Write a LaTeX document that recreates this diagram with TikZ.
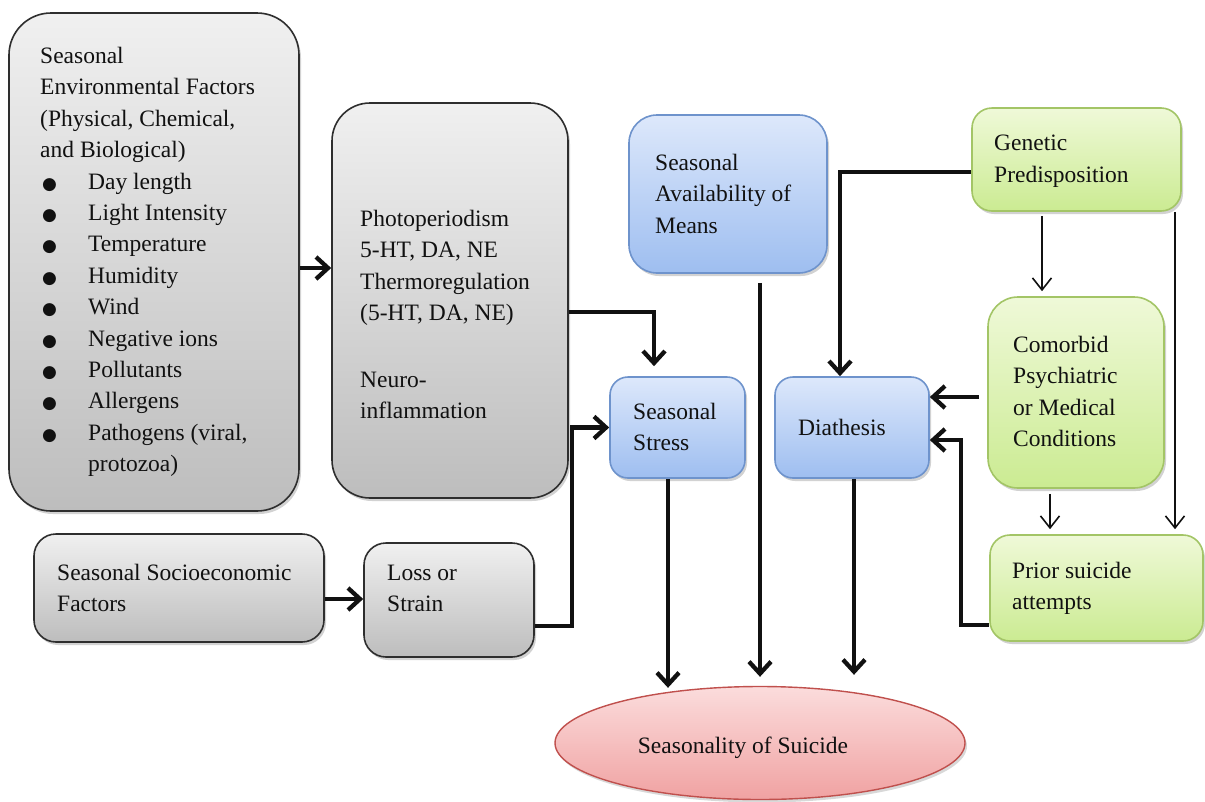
\documentclass[tikz,border=0pt]{standalone}
\usepackage{fontspec}
\setmainfont{Liberation Serif}
\newfontfamily\symf{DejaVu Sans}
\usetikzlibrary{arrows.meta,shapes.geometric,shadows}
\newcommand{\mybul}{\makebox[48pt][l]{\hspace*{2pt}{\symf\fontsize{17}{17}\selectfont ●}}}
\definecolor{grayT}{HTML}{F0F0F0}
\definecolor{grayB}{HTML}{BDBDBD}
\definecolor{grayD}{HTML}{2E2E2E}
\definecolor{blueT}{HTML}{DDE8FB}
\definecolor{blueB}{HTML}{9EBEF0}
\definecolor{blueD}{HTML}{6E93CC}
\definecolor{greenT}{HTML}{EFF9D8}
\definecolor{greenB}{HTML}{CBEB92}
\definecolor{greenD}{HTML}{A3C566}
\definecolor{pinkT}{HTML}{FBDCDC}
\definecolor{pinkB}{HTML}{F0A2A2}
\definecolor{pinkD}{HTML}{C0504D}
\definecolor{ink}{HTML}{111111}
\begin{document}
\begin{tikzpicture}[x=1pt,y=-1pt,
  box/.style={draw, rounded corners=#1, inner sep=0pt, line width=1.6pt,
    drop shadow={shadow xshift=2pt,shadow yshift=-3pt,opacity=0.35}},
  grayfill/.style={top color=grayT, bottom color=grayB, draw=grayD},
  bluefill/.style={top color=blueT, bottom color=blueB, draw=blueD},
  greenfill/.style={top color=greenT, bottom color=greenB, draw=greenD},
  txt/.style={anchor=north west, inner sep=0pt, align=left, text=ink,
    font=\fontsize{23.5}{31.4}\selectfont},
  bigarrow/.style={draw=ink, line width=4.3pt, -{Straight Barb[length=12pt,width=22pt]}},
  thinarrow/.style={draw=ink, line width=1.6pt, -{Straight Barb[length=12pt,width=19pt]}}
]
\useasboundingbox (0,0) rectangle (1205,801);
\fill[white] (0,0) rectangle (1205,801);

% boxes
\node[box=42pt, grayfill, minimum width=290pt, minimum height=498pt] (env) at (154,262) {};
\node[box=38pt, grayfill, minimum width=236pt, minimum height=395pt] (photo) at (450,300.5) {};
\node[box=28pt, bluefill, minimum width=198pt, minimum height=158pt] (means) at (728,194) {};
\node[box=20pt, greenfill, minimum width=209pt, minimum height=103pt] (gen) at (1076.5,159.5) {};
\node[box=30pt, greenfill, minimum width=176pt, minimum height=191pt] (com) at (1076,392.5) {};
\node[box=20pt, greenfill, minimum width=213pt, minimum height=106pt] (prior) at (1096.5,588) {};
\node[box=18pt, bluefill, minimum width=135pt, minimum height=101pt] (stress) at (677.5,427.5) {};
\node[box=18pt, bluefill, minimum width=154pt, minimum height=101pt] (dia) at (852,427.5) {};
\node[box=22pt, grayfill, minimum width=290pt, minimum height=108pt] (soc) at (179,588) {};
\node[box=22pt, grayfill, minimum width=170pt, minimum height=114pt] (loss) at (449,600) {};
\node[ellipse, draw=pinkD, line width=1.4pt, top color=pinkT, bottom color=pinkB,
  minimum width=410pt, minimum height=113pt, inner sep=0pt,
  drop shadow={shadow xshift=2pt,shadow yshift=-3pt,opacity=0.3}] (sos) at (760,743) {};

% texts
\node[txt] (envT) at (40,47) {Seasonal\\
Environmental Factors\\
(Physical, Chemical,\\
and Biological)\\
\mybul Day length\\
\mybul Light Intensity\\
\mybul Temperature\\
\mybul Humidity\\
\mybul Wind\\
\mybul Negative ions\\
\mybul Pollutants\\
\mybul Allergens\\
\mybul Pathogens (viral,\\
\hspace*{48pt}protozoa)};
\node[txt] (photoT) at (360,210) {Photoperiodism\\
5-HT, DA, NE\\
Thermoregulation\\
(5-HT, DA, NE)\\[35pt]
Neuro-\\
inflammation};
\node[txt] (meansT) at (655,154) {Seasonal\\Availability of\\Means};
\node[txt] (genT) at (994,135) {Genetic\\Predisposition};
\node[txt] (comT) at (1013,336) {Comorbid\\Psychiatric\\or Medical\\Conditions};
\node[txt] (priorT) at (1012,562) {Prior suicide\\attempts};
\node[txt] (stressT) at (633,403) {Seasonal\\Stress};
\node[txt] (diaT) at (798,419) {Diathesis};
\node[txt] (socT) at (57,564) {Seasonal Socioeconomic\\Factors};
\node[txt] (lossT) at (387,565) {Loss or\\Strain};
\node[anchor=base, inner sep=0pt, text=ink, font=\fontsize{23.5}{28}\selectfont] (sosT) at (743,753) {Seasonality of Suicide};

% connectors
\draw[bigarrow] (env.east |- 0,268) -- (photo.west |- 0,268);
\draw[bigarrow, shorten >=10pt] (photo.east |- 0,312) -| (654,0 |- stress.north);
\draw[bigarrow] (soc.east |- 0,599) -- (loss.west |- 0,599);
\draw[bigarrow] (loss.east |- 0,626) -| (572,0 |- stress.west) -- (stress.west);
\draw[bigarrow, shorten >=-2pt] (stress.south -| 668,0) -- (sos.north -| 668,0);
\draw[bigarrow, shorten <=9pt, shorten >=9pt] (sos.north |- means.south) -- (sos.north);
\draw[bigarrow, shorten >=11pt] (dia.south -| 854,0) -- (sos.north -| 854,0);
\draw[bigarrow] (gen.west |- 0,172) -| (840,0 |- dia.north);
\draw[bigarrow, shorten <=8pt] (com.west |- 0,397) -- (dia.east |- 0,397);
\draw[bigarrow] (prior.west |- 0,625) -| (961,440) -- (dia.east |- 0,440);
\draw[thinarrow, shorten <=4pt, shorten >=5pt] (gen.south -| 1042,0) -- (com.north -| 1042,0);
\draw[thinarrow, shorten >=5pt] (gen.south -| 1175,0) -- (prior.north -| 1175,0);
\draw[thinarrow, shorten <=5pt, shorten >=5pt] (com.south -| 1050,0) -- (prior.north -| 1050,0);
\end{tikzpicture}
\end{document}
